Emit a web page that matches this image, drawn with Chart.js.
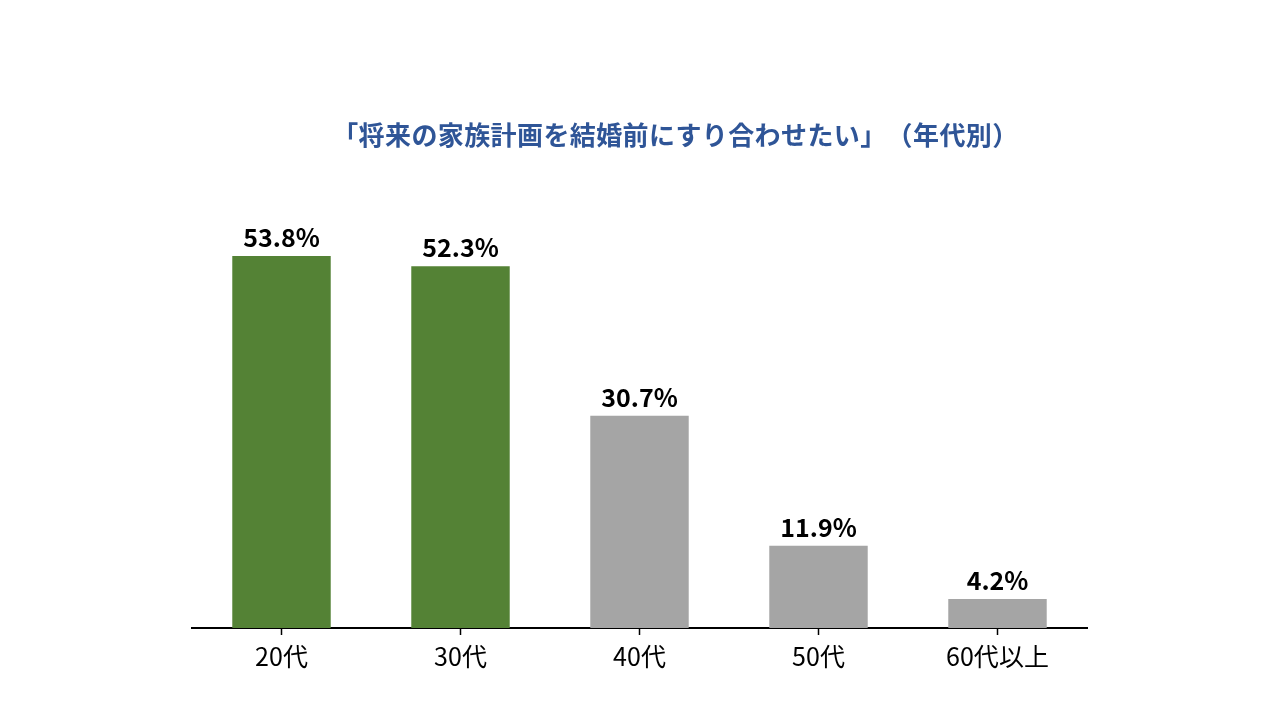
<!DOCTYPE html>
<html>
<head>
<meta charset="utf-8">
<script src="https://cdn.jsdelivr.net/npm/chart.js@4"></script>
<style>
  html, body { margin: 0; padding: 0; background: #ffffff; }
  #wrap { width: 1280px; height: 720px; position: relative; }
</style>
</head>
<body>
<div id="wrap"><canvas id="ageChart" width="1280" height="720"></canvas></div>
<script>
// Values
const categories = ['20代', '30代', '40代', '50代', '60代以上'];
const values = [53.8, 52.3, 30.7, 11.9, 4.2];
const barColors = ['#548235', '#548235', '#a5a5a5', '#a5a5a5', '#a5a5a5'];
const titleText = '「将来の家族計画を結婚前にすり合わせたい」（年代別）';

const FONT = "'Noto Sans CJK JP', 'Noto Sans', sans-serif";

// Title: drawn glyph by glyph so the full-width brackets keep their width
const titlePlugin = {
    id: 'titleText',
    afterDraw(chart) {
        const ctx = chart.ctx;
        const size = 26;
        const pitch = 26.4;
        const chars = Array.from(titleText);
        let x = 332;
        ctx.save();
        ctx.font = `bold ${size}px ${FONT}`;
        ctx.fillStyle = '#2f5597';
        ctx.textAlign = 'center';
        ctx.textBaseline = 'middle';
        chars.forEach(ch => {
            ctx.fillText(ch, x + pitch / 2, 135);
            x += pitch;
        });
        ctx.restore();
    }
};

// Percent labels above each bar
const valueLabels = {
    id: 'valueLabels',
    afterDatasetsDraw(chart) {
        const ctx = chart.ctx;
        const meta = chart.getDatasetMeta(0);
        ctx.save();
        ctx.font = `bold 25px ${FONT}`;
        ctx.fillStyle = '#000000';
        ctx.textAlign = 'center';
        ctx.textBaseline = 'alphabetic';
        meta.data.forEach((bar, i) => {
            ctx.fillText(values[i].toFixed(1) + '%', bar.x, bar.y - 9);
        });
        ctx.restore();
    }
};

new Chart(document.getElementById('ageChart'), {
    type: 'bar',
    data: {
        labels: categories,
        datasets: [{
            data: values,
            backgroundColor: barColors,
            categoryPercentage: 1,
            barPercentage: 0.55
        }]
    },
    options: {
        responsive: false,
        animation: false,
        layout: {
            padding: { left: 192, right: 193, top: 213, bottom: 43 }
        },
        plugins: {
            legend: { display: false },
            tooltip: { enabled: false }
        },
        scales: {
            y: {
                display: false,
                min: 0,
                max: 60
            },
            x: {
                offset: true,
                grid: {
                    offset: false,
                    drawOnChartArea: false,
                    drawTicks: true,
                    tickLength: 7,
                    tickWidth: 1.5,
                    tickColor: '#000000'
                },
                border: { display: true, color: '#000000', width: 2 },
                ticks: {
                    color: '#000000',
                    padding: 6,
                    font: { size: 25, family: FONT }
                }
            }
        }
    },
    plugins: [titlePlugin, valueLabels]
});
</script>
</body>
</html>
